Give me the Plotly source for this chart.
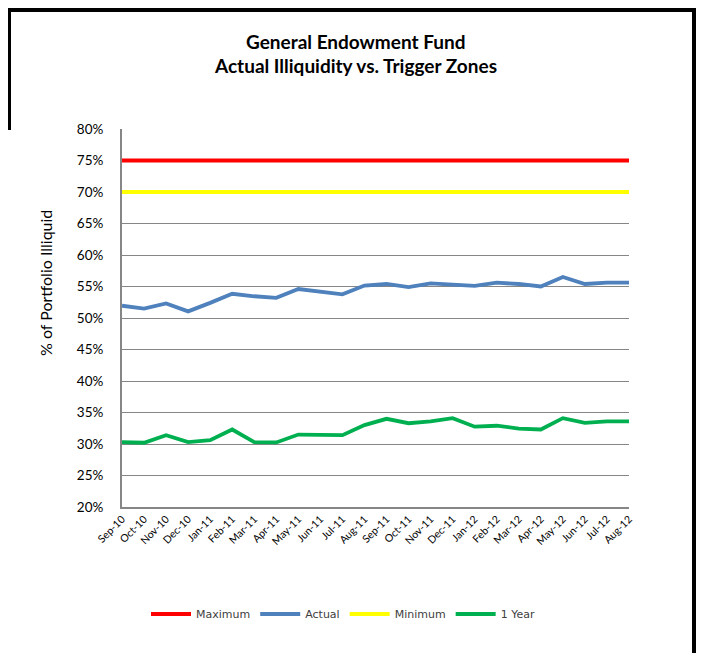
import plotly.graph_objects as go

months = ["Sep-10", "Oct-10", "Nov-10", "Dec-10", "Jan-11", "Feb-11", "Mar-11", "Apr-11",
          "May-11", "Jun-11", "Jul-11", "Aug-11", "Sep-11", "Oct-11", "Nov-11", "Dec-11",
          "Jan-12", "Feb-12", "Mar-12", "Apr-12", "May-12", "Jun-12", "Jul-12", "Aug-12"]
maximum = [75] * 24
minimum = [70] * 24
actual = [51.95, 51.5, 52.3, 51.05, 52.4, 53.85, 53.45, 53.2, 54.6, 54.1, 53.75, 55.15,
          55.4, 54.9, 55.5, 55.3, 55.1, 55.6, 55.4, 55.0, 56.5, 55.4, 55.6, 55.6]
one_year = [30.3, 30.2, 31.4, 30.3, 30.6, 32.3, 30.3, 30.25, 31.5, 31.4, 31.4, 33.0,
            34.0, 33.3, 33.6, 34.1, 32.75, 32.9, 32.45, 32.3, 34.1, 33.35, 33.6, 33.6]
y_ticks = list(range(20, 81, 5))

OFF = 8  # browser body margin
W, H = 709 - OFF, 653 - OFF
# plot area in page coordinates: x 122..629, y 129..507
L, T = 122 - OFF, 129 - OFF
R = W - (629 - OFF)
B = H - (507 - OFF)
pw, ph = W - L - R, H - T - B

def px(x):
    return (x - OFF - L) / pw

def py(y):
    return (H - B - (y - OFF)) / ph

fig = go.Figure()
series = [("Maximum", maximum, "#FF0000"), ("Actual", actual, "#4F81BD"),
          ("Minimum", minimum, "#FFFF00"), ("1 Year", one_year, "#00B050")]
for name, vals, col in series:
    fig.add_trace(go.Scatter(x=months, y=vals, name=name, mode="lines",
                             line=dict(color=col, width=3.8)))

fig.update_layout(
    width=W, height=H,
    margin=dict(l=L, r=R, t=T, b=B),
    paper_bgcolor="white", plot_bgcolor="white",
    showlegend=True,
    legend=dict(orientation="h", x=px(343), xanchor="center", y=py(614), yanchor="middle",
                font=dict(family="DejaVu Sans", size=11, color="#404040"),
                itemwidth=40, tracegroupgap=0),
    font=dict(family="Lato", color="black"),
    annotations=[
        dict(text="<b>General Endowment Fund</b>", x=px(355), y=py(41), xref="paper", yref="paper",
             xanchor="center", yanchor="middle",
             showarrow=False, font=dict(family="Lato", size=19, color="black")),
        dict(text="<b>Actual Illiquidity vs. Trigger Zones</b>", x=px(355), y=py(66), xref="paper",
             yref="paper", xanchor="center", yanchor="middle",
             showarrow=False, font=dict(family="Lato", size=19, color="black")),
        dict(text="% of Portfolio Illiquid", x=px(45), y=py(283), xref="paper", yref="paper",
             xanchor="center", yanchor="middle",
             showarrow=False, textangle=-90, font=dict(family="Lato", size=16, color="black")),
    ],
    shapes=[
        dict(type="line", xref="paper", yref="paper", x0=px(8), x1=px(696), y0=py(10), y1=py(10),
             line=dict(color="black", width=4)),
        dict(type="line", xref="paper", yref="paper", x0=px(694), x1=px(694), y0=py(8), y1=py(660),
             line=dict(color="black", width=4)),
        dict(type="line", xref="paper", yref="paper", x0=px(9.5), x1=px(9.5), y0=py(8), y1=py(130),
             line=dict(color="black", width=3)),
    ],
)
fig.update_xaxes(type="category", showgrid=False, showline=True, linecolor="#868686", linewidth=2,
                 tickangle=-45, tickfont=dict(family="Lato", size=10.5, color="black"), ticks="",
                 zeroline=False)
fig.update_yaxes(range=[20, 80], tickvals=y_ticks, ticktext=[f"{v}%" for v in y_ticks],
                 showgrid=True, gridcolor="#868686", gridwidth=1, showline=True,
                 linecolor="#868686", linewidth=2, ticks="", ticklabelstandoff=14,
                 tickfont=dict(family="Lato", size=13.5, color="black"), zeroline=False)

fig.write_html("out.html")
